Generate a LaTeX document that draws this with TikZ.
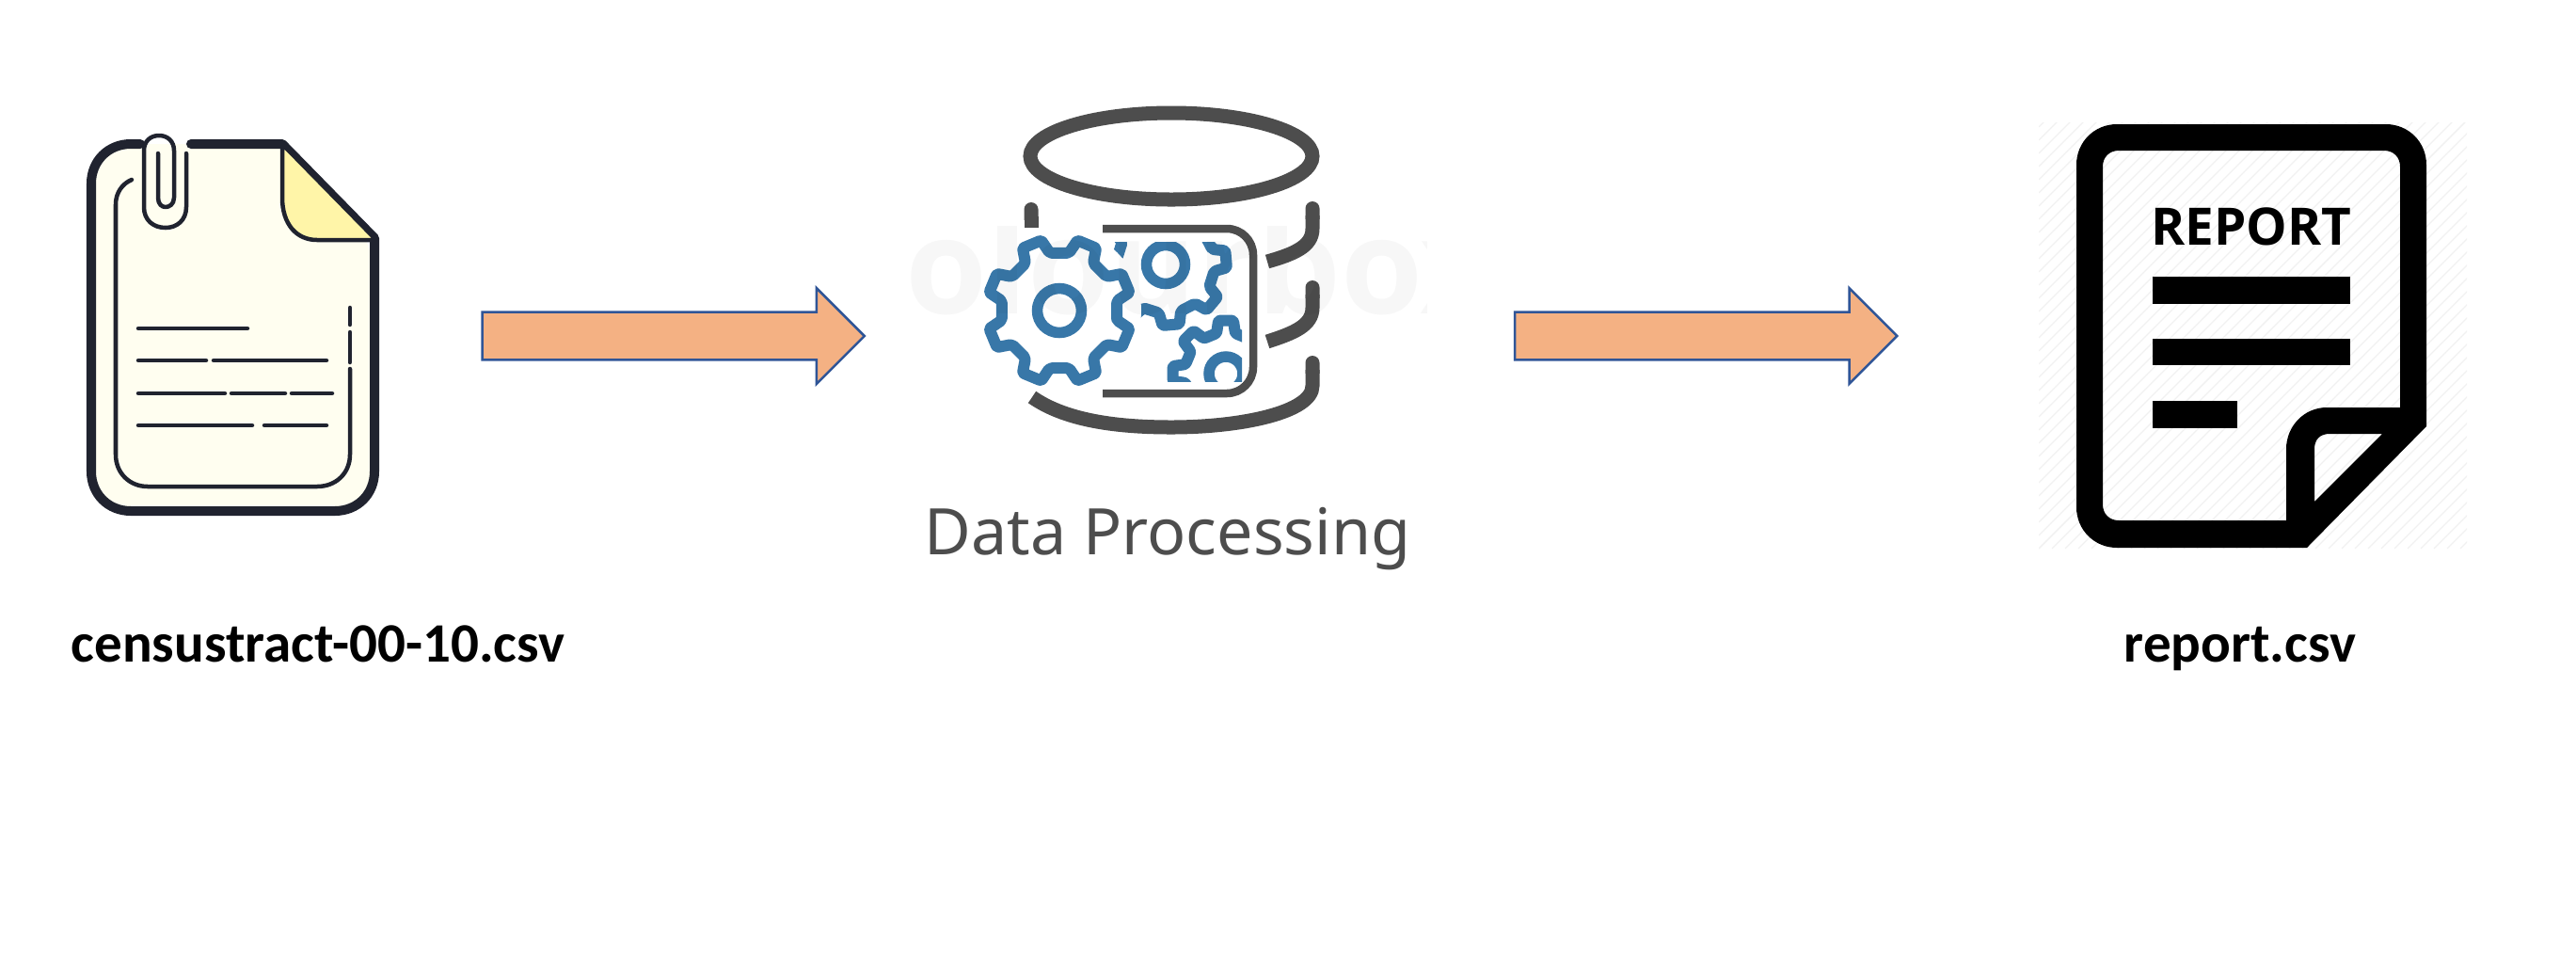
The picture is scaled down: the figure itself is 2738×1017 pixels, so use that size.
\documentclass[tikz,border=0pt]{standalone}
\usepackage{fontspec}
\usepackage{xcolor}
\usepackage{tikz}
\usetikzlibrary{arrows.meta, shapes.arrows, positioning}
\newfontfamily\filefont{Carlito}
\newfontfamily\iconfont{Noto Sans}
\newfontfamily\stampfont{Open Sans}
\definecolor{ArrowFill}{HTML}{F4B183}
\definecolor{ArrowEdge}{HTML}{2F5597}
\definecolor{SheetFill}{HTML}{FFFEF0}
\definecolor{FoldFill}{HTML}{FFF5A8}
\definecolor{SheetEdge}{HTML}{20232F}
\definecolor{StoreGrey}{HTML}{4D4D4D}
\definecolor{GearBlue}{HTML}{3877A8}
\definecolor{HatchGrey}{HTML}{F1F1F1}

% cx, cy, phase, root radius, tip radius
\newcommand{\gearoutline}[5]{
    \begin{scope}[shift={(#1,#2)}]
        \draw[gearline] ({#3-13}:#4)
        \foreach \k in {0,...,7} {
            -- ({#3+45*\k-13}:#4) -- ({#3+45*\k-8}:#5) -- ({#3+45*\k+8}:#5) -- ({#3+45*\k+13}:#4)
        } -- cycle;
    \end{scope}
}
\newcommand{\hatchlines}{
    \begin{scope}
        \clip (2167,130) rectangle (2622,583);
        \foreach \d in {0,14,...,910} {
            \draw[HatchGrey, line width=0.012cm] ({2167+\d},583) -- ({2167+\d+453},130);
            \draw[HatchGrey, line width=0.012cm] (2167,{583-\d}) -- (2620,{130-\d});
        }
    \end{scope}
}

\begin{document}
\begin{tikzpicture}[x=0.01cm, y=-0.01cm,
    flowarrow/.style={single arrow, draw=ArrowEdge, fill=ArrowFill, line width=0.025cm, minimum height=4.06cm, inner xsep=0pt, inner ysep=0.24cm, single arrow head extend=0.255cm, outer sep=0pt},
    filelabel/.style={font=\filefont\bfseries\fontsize{16.8}{20}\selectfont, anchor=base, inner sep=0pt},
    sheetline/.style={draw=SheetEdge, line width=0.045cm, line cap=round, line join=round},
    sheetedge/.style={draw=SheetEdge, line width=0.1cm, line cap=round, line join=round},
    storeline/.style={draw=StoreGrey, line width=0.15cm},
    gearline/.style={draw=GearBlue, line width=0.12cm, line join=round, rounded corners=0.6pt},
    holeline/.style={draw=GearBlue, line width=0.115cm}]

    \useasboundingbox (0,0) rectangle (2738,1017);

    % input file
    \fill[SheetFill, rounded corners=0.42cm] (300,153) -- (97,153) -- (97,543) -- (398,543) -- (398,253) [sharp corners] -- (300,153) -- cycle;
    \draw[sheetedge] (149,153) -- (139,153) .. controls (115,153) and (97,171) .. (97,195) -- (97,501) .. controls (97,525) and (115,543) .. (139,543) -- (356,543) .. controls (380,543) and (398,525) .. (398,501) -- (398,253) -- (300,153) -- (203,153);
    \draw[sheetline, fill=FoldFill] (300,153) -- (300,210) .. controls (300,238) and (315,255) .. (337,255) -- (398,255) -- (398,253) -- cycle;
    \draw[sheetline] (140,191) .. controls (130,195) and (123,205) .. (123,217) -- (123,483) .. controls (123,503) and (138,517) .. (157,517) -- (337,517) .. controls (357,517) and (372,503) .. (372,483) -- (372,392);
    \draw[sheetline] (372,385) -- (372,353);
    \draw[sheetline] (372,345) -- (372,327);
    \draw[sheetline] (147,349) -- (263,349);
    \draw[sheetline] (147,383) -- (219,383);
    \draw[sheetline] (227,383) -- (347,383);
    \draw[sheetline] (147,418) -- (239,418);
    \draw[sheetline] (246,418) -- (303,418);
    \draw[sheetline] (310,418) -- (353,418);
    \draw[sheetline] (147,452) -- (268,452);
    \draw[sheetline] (281,452) -- (347,452);
    % paper clip
    \draw[sheetline] (198,163) -- (198,220) .. controls (198,234) and (188,242) .. (176,242) .. controls (163,242) and (153,234) .. (153,220) -- (153,160) .. controls (153,150) and (160,144) .. (169,144) .. controls (178,144) and (185,150) .. (185,160) -- (185,210) .. controls (185,217) and (180,220) .. (176,220) .. controls (172,220) and (168,217) .. (168,210) -- (168,163);

    \node[filelabel] (censuslabel) at (338,703) {censustract-00-10.csv};

    \node[flowarrow] (arrowin) at (703,357) {};
    \node[flowarrow, right=10.97cm of arrowin.center, anchor=center] (arrowout) {};

    % data store
    \draw[storeline] (1245,166) ellipse (150 and 46);
    \draw[storeline, {Round Cap[]}-] (1096,215) -- (1096,242);
    \draw[storeline, {Round Cap[]}-] (1395,214) -- (1395,243) .. controls (1395,262) and (1375,270) .. (1347,278);
    \draw[storeline, {Round Cap[]}-] (1395,298) -- (1395,327) .. controls (1395,346) and (1375,354) .. (1347,363);
    \draw[storeline, {Round Cap[]}-] (1395,378) -- (1395,410) .. controls (1395,438) and (1320,454) .. (1245,454) .. controls (1180,454) and (1130,445) .. (1097,422);
    \draw[StoreGrey, line width=0.085cm, rounded corners=0.28cm] (1172,243) -- (1332,243) -- (1332,418) -- (1172,418);

    \begin{scope}
        \clip (1150,257) rectangle (1320,405);
        \gearoutline{1239}{281}{-5}{52}{65}
        \draw[holeline] (1239,281) circle (20.5);
        \gearoutline{1303}{397}{0}{44}{57}
        \draw[holeline] (1303,397) circle (18);
    \end{scope}

    \fill[white] (1126,330) circle (87);
    \gearoutline{1126}{330}{22.5}{62}{77}
    \draw[holeline] (1126,330) circle (23.5);

    \node[font=\iconfont\fontsize{19.4}{24}\selectfont, text=StoreGrey, anchor=base, inner sep=0pt] (storelabel) at (1241,589) {Data Processing};

    \begin{scope}
        \clip (957,240) rectangle (1516,335);
        \node[font=\stampfont\bfseries\fontsize{40}{50}\selectfont, text=black, opacity=0.03, anchor=base west, inner sep=0pt] (stamp) at (962,333) {olourbox};
    \end{scope}

    % output file
    \hatchlines
    \fill[black, even odd rule] (2250,132) -- (2536,132) .. controls (2560,132) and (2579,151) .. (2579,175) -- (2579,453) -- (2452,582) -- (2250,582) .. controls (2226,582) and (2207,563) .. (2207,539) -- (2207,175) .. controls (2207,151) and (2226,132) .. (2250,132) -- cycle
    (2252,160) -- (2534,160) .. controls (2544,160) and (2551,167) .. (2551,177) -- (2551,433) -- (2473,433) .. controls (2449,433) and (2430,453) .. (2430,477) -- (2430,553) -- (2252,553) .. controls (2242,553) and (2235,546) .. (2235,536) -- (2235,177) .. controls (2235,167) and (2242,160) .. (2252,160) -- cycle
    (2532,461) -- (2476,461) .. controls (2466,461) and (2460,467) .. (2460,477) -- (2460,533) -- cycle;
    \node[font=\stampfont\bfseries\fontsize{15.6}{18}\selectfont, anchor=base, inner sep=0pt] (stamptitle) at (2393,260) {REPORT};
    \fill[black] (2288,294) rectangle (2498,323);
    \fill[black] (2288,360) rectangle (2498,388);
    \fill[black] (2288,426) rectangle (2378,455);

    \node[filelabel] (reportlabel) at (2381,703) {report.csv};

\end{tikzpicture}
\end{document}
